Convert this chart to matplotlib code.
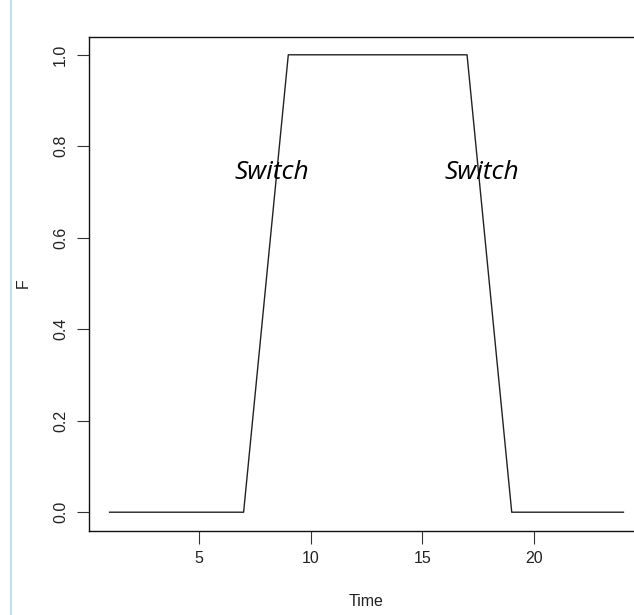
import matplotlib
matplotlib.use("Agg")
import matplotlib.pyplot as plt
from matplotlib.lines import Line2D

# data
time = list(range(1, 25))
F = [0, 0, 0, 0, 0, 0, 0, 0.5, 1, 1, 1, 1, 1, 1, 1, 1, 1, 0.5, 0, 0, 0, 0, 0, 0]
switch_x = [8.28, 17.68]
switch_y = [0.742, 0.742]
xticks = [5, 10, 15, 20]
yticks = [0.0, 0.2, 0.4, 0.6, 0.8, 1.0]

plt.rcParams['font.family'] = ['Liberation Sans', 'DejaVu Sans']

fig = plt.figure(figsize=(6.34, 6.15), dpi=100)
ax = fig.add_axes([89 / 634, 84.5 / 615, 555 / 634, 494 / 615])

ax.plot(time, F, color='#222222', linewidth=1.0)
for x, y in zip(switch_x, switch_y):
    ax.text(x, y, "Switch", family='Open Sans', style='italic', fontsize=19,
            ha='center', va='center', color='black')

ax.set_xlim(0.08, 24.92)
ax.set_ylim(-0.04, 1.04)
ax.set_xticks(xticks)
ax.set_yticks(yticks)
ax.set_yticklabels([f"{v:.1f}" for v in yticks], rotation=90, va='center')
ax.tick_params(direction='out', length=9, width=0.8, labelsize=11.5,
               colors='#333333', pad=6)
ax.tick_params(axis='both', labelcolor='#222222')
for s in ax.spines.values():
    s.set_linewidth(1.0)
    s.set_color('#111111')

ax.set_xlabel("Time", fontsize=11.5, labelpad=20, color='#222222')
ax.set_ylabel("F", fontsize=11.5, labelpad=16, color='#222222')

# light blue rule on the left edge
fig.add_artist(Line2D([10.5 / 634, 10.5 / 634], [0, 1], transform=fig.transFigure,
                      color='#b3d7f2', linewidth=1.2))

fig.savefig("out.png", dpi=100)
